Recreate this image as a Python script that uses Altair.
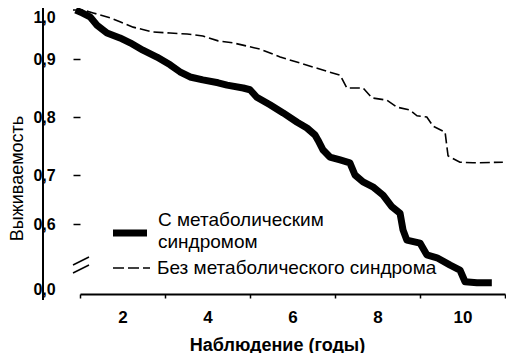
import altair as alt
import pandas as pd

# --- data ---
years_ms = [0.90, 1.05, 1.235, 1.40, 1.635, 1.94, 2.18, 2.48, 2.81, 3.12,
            3.35, 3.59, 3.89, 4.25, 4.46, 4.84, 5.00, 5.16, 5.47, 5.78,
            6.11, 6.34, 6.53, 6.60, 6.72, 6.88, 7.12, 7.35, 7.47, 7.66,
            7.89, 8.13, 8.34, 8.53, 8.60, 8.69, 9.00, 9.16, 9.40, 9.71,
            9.94, 10.06, 10.34, 10.69]
surv_ms = [1.000, 0.994, 0.986, 0.969, 0.953, 0.943, 0.933, 0.918, 0.904, 0.890,
           0.878, 0.869, 0.864, 0.859, 0.855, 0.850, 0.847, 0.834, 0.821, 0.807,
           0.791, 0.781, 0.769, 0.760, 0.743, 0.731, 0.726, 0.721, 0.700, 0.686,
           0.676, 0.659, 0.635, 0.622, 0.588, 0.567, 0.561, 0.537, 0.531, 0.516,
           0.506, 0.482, 0.480, 0.480]

years_no = [0.835, 1.07, 1.31, 1.71, 1.94, 2.25, 2.72, 3.12, 3.52, 3.89,
            4.25, 4.60, 5.24, 5.71, 6.18, 6.58, 7.12, 7.28, 7.66, 7.87,
            8.22, 8.46, 8.76, 8.93, 9.16, 9.31, 9.59, 9.66, 9.94, 10.25, 10.95]
surv_no = [1.0, 1.0, 0.994, 0.984, 0.976, 0.965, 0.955, 0.953, 0.951, 0.947,
           0.937, 0.933, 0.920, 0.904, 0.893, 0.884, 0.872, 0.850, 0.850, 0.833,
           0.829, 0.817, 0.812, 0.802, 0.800, 0.784, 0.774, 0.733, 0.722, 0.721, 0.722]

legend_ms = ["С метаболическим", "синдромом"]
legend_no = "Без метаболического синдрома"
x_title = "Наблюдение (годы)"
y_title = "Выживаемость"

x_ticks = [1, 2, 3, 4, 5, 6, 7, 8, 9, 10, 11]
y_ticks = [0.467, 0.6, 0.7, 0.8, 0.9, 1.0]   # 0.467 = broken-axis "0,0" position

FONT = "Liberation Sans"
W, H = 425, 286

df_ms = pd.DataFrame({"year": years_ms, "surv": surv_ms})
df_no = pd.DataFrame({"year": years_no, "surv": surv_no})

xscale = alt.Scale(domain=[1, 11], nice=False, zero=False)
yscale = alt.Scale(domain=[0.457, 0.6, 0.7, 0.8, 0.9, 1.0],
                   range=[286, 216, 167, 109, 51, 2], nice=False, zero=False)

xaxis = alt.Axis(
    values=x_ticks, title=x_title, grid=False,
    labelExpr="datum.value % 2 == 0 ? datum.value : ''",
    labelFont=FONT, labelFontSize=17, labelFontWeight="bold", labelColor="black",
    labelBaseline="middle", labelPadding=19, labelOverlap=False, labelFlush=False,
    tickSize=4, tickWidth=1.5, tickColor="black",
    tickOpacity={"condition": {"test": "datum.value % 2 == 0", "value": 0}, "value": 1},
    domainColor="black", domainWidth=2,
    titleFont=FONT, titleFontSize=18, titleFontWeight="bold", titleColor="black",
    titleX=197, titleY=51, titleBaseline="middle", titleAlign="center",
)

yaxis = alt.Axis(
    values=y_ticks, title=y_title, grid=False, domain=False,
    labelExpr="datum.value < 0.5 ? '0,0' : replace(format(datum.value, '.1f'), '.', ',')",
    labelFont=FONT, labelFontSize=16, labelFontWeight="bold", labelColor="black",
    labelAlign="center", labelPadding=29, labelOverlap=False, labelFlush=False,
    labelOffset={"condition": {"test": "datum.value > 0.95", "value": 7}, "value": 0},
    tickSize=7, tickWidth=1.5, tickColor="black",
    tickOpacity={"condition": {"test": "datum.value > 0.95 || datum.value < 0.5", "value": 0}, "value": 1},
    titleFont=FONT, titleFontSize=18, titleFontWeight="normal", titleColor="black",
    titleAngle=270, titleX=-58, titleY=170, titleBaseline="alphabetic", titleAlign="center",
)

solid = alt.Chart(df_ms).mark_line(
    color="black", strokeWidth=7, strokeJoin="round", strokeCap="butt"
).encode(
    x=alt.X("year:Q", scale=xscale, axis=xaxis),
    y=alt.Y("surv:Q", scale=yscale, axis=yaxis),
)

dashed = alt.Chart(df_no).mark_line(
    color="black", strokeWidth=1.6, strokeDash=[10, 4]
).encode(
    x=alt.X("year:Q", scale=xscale),
    y=alt.Y("surv:Q", scale=yscale),
)

one = alt.Data(values=[{}])

y_line = alt.Chart(one).mark_rule(color="black", strokeWidth=2).encode(
    x=alt.value(-37), y=alt.value(0), y2=alt.value(292))

brk1 = alt.Chart(one).mark_rule(color="black", strokeWidth=1.5).encode(
    x=alt.value(-7), y=alt.value(257), x2=alt.value(9), y2=alt.value(249))
brk2 = alt.Chart(one).mark_rule(color="black", strokeWidth=1.5).encode(
    x=alt.value(-7), y=alt.value(265), x2=alt.value(9), y2=alt.value(257))

leg_solid = alt.Chart(one).mark_rule(color="black", strokeWidth=7).encode(
    x=alt.value(33), x2=alt.value(67), y=alt.value(225))
leg_dash = alt.Chart(one).mark_rule(color="black", strokeWidth=1.6, strokeDash=[11, 4]).encode(
    x=alt.value(33), x2=alt.value(70), y=alt.value(260))

def txt(s, x, y):
    return alt.Chart(one).mark_text(
        align="left", baseline="middle", font=FONT, fontSize=19, color="black"
    ).encode(x=alt.value(x), y=alt.value(y), text=alt.value(s))

chart = alt.layer(
    dashed, solid, y_line, brk1, brk2, leg_solid, leg_dash,
    txt(legend_ms[0], 78, 212), txt(legend_ms[1], 78, 234), txt(legend_no, 77, 260),
).properties(
    width=W, height=H,
    autosize=alt.AutoSizeParams(type="none"),
    padding={"left": 72, "top": 0, "right": 1, "bottom": 59},
    background="white",
).configure_view(stroke=None)

chart.save("out.html", embed_options={"renderer": "svg", "actions": False})
